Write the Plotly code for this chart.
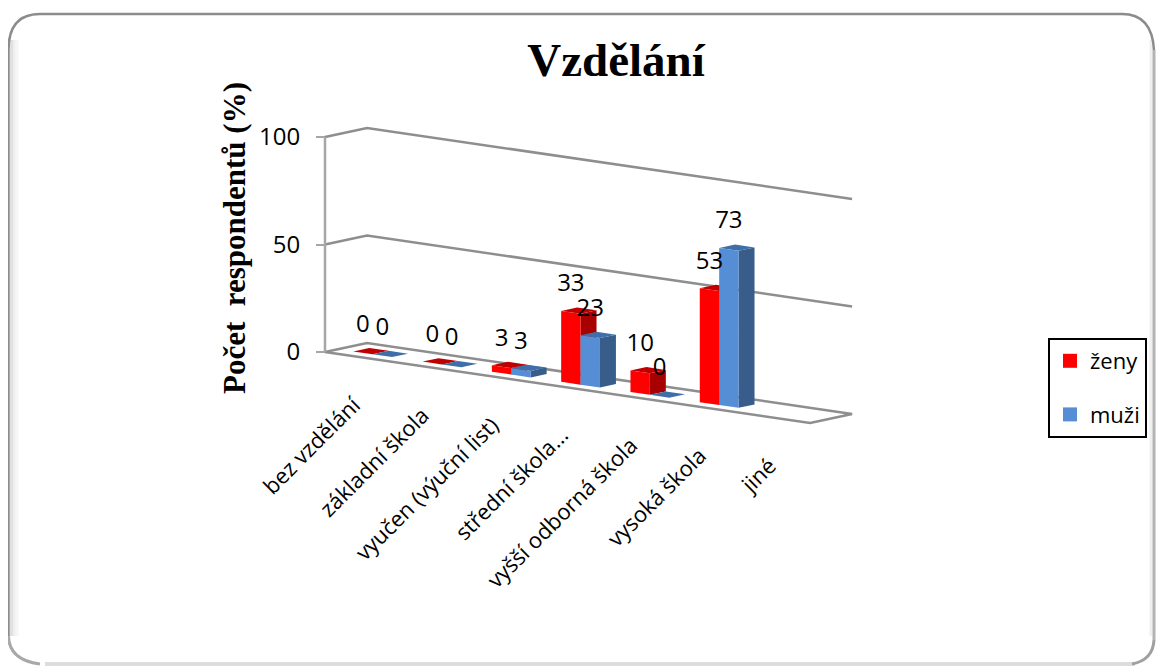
"""Vzdělání: Excel style pseudo-3D column chart drawn on sheared plotly axes."""

import plotly.graph_objects as go

PAGE_MARGIN = 8  # browser body margin in front of the figure
WIDTH = 1164 - PAGE_MARGIN
HEIGHT = 666 - PAGE_MARGIN

categories = ["bez vzdělání", "základní škola", "vyučen (výuční list)", "střední škola...",
              "vyšší odborná škola", "vysoká škola", "jiné"]
zeny = [0, 0, 3, 33, 10, 53, None]
muzi = [0, 0, 3, 23, 0, 73, None]
y_ticks = [0, 50, 100]

SANS = "Open Sans"
SERIF = "Liberation Serif"

# pixel geometry of the fake 3D box, in figure pixels
ORIGIN_X, ORIGIN_Y = 325 - PAGE_MARGIN, 352 - PAGE_MARGIN
PX_PER_CAT = 69.3
PX_PER_VAL = 2.15
DROP_PER_CAT = 10.14 / PX_PER_VAL  # floor falls to the right
DEPTH_X = 42 / PX_PER_CAT
DEPTH_Y = 9 / PX_PER_VAL
BAR_W = 0.28
D_FRONT, D_BACK = 0.31, 0.69
LABEL_LIFT = 27 / PX_PER_VAL


def px(x):
    return (x - PAGE_MARGIN) / WIDTH


def py(y):
    return 1 - (y - PAGE_MARGIN) / HEIGHT


def proj(u, d, v):
    """Category position, depth and value to sheared axis coordinates."""
    return u + d * DEPTH_X, v - u * DROP_PER_CAT + d * DEPTH_Y


def polys(corners):
    xs, ys = [], []
    for poly in corners:
        pts = [proj(*p) for p in poly]
        pts.append(pts[0])
        xs += [p[0] for p in pts] + [None]
        ys += [p[1] for p in pts] + [None]
    return xs, ys


def add_series(fig, values, offset, colors):
    front, side, top = [], [], []
    for i, v in enumerate(values):
        if v is None:
            continue
        u0 = i + 0.5 + offset
        u1 = u0 + BAR_W
        front.append([(u0, D_FRONT, 0), (u1, D_FRONT, 0), (u1, D_FRONT, v), (u0, D_FRONT, v)])
        side.append([(u1, D_FRONT, 0), (u1, D_BACK, 0), (u1, D_BACK, v), (u1, D_FRONT, v)])
        top.append([(u0, D_FRONT, v), (u1, D_FRONT, v), (u1, D_BACK, v), (u0, D_BACK, v)])
    for faces, color in zip((side, top, front), colors):
        xs, ys = polys(faces)
        fig.add_trace(go.Scatter(x=xs, y=ys, mode="lines", fill="toself", fillcolor=color,
                                 line=dict(width=0, color=color), showlegend=False, hoverinfo="skip"))


def labels_for(values, offset):
    xs, ys, text = [], [], []
    for i, v in enumerate(values):
        if v is None:
            continue
        x, y = proj(i + 0.5 + offset + BAR_W / 2, D_FRONT, v)
        xs.append(x)
        ys.append(y + LABEL_LIFT)
        text.append(str(v))
    return xs, ys, text


def edge(points, color, width):
    """Frame piece from page pixels: first point, then L or Q segments."""
    path = f"M {px(points[0][0])},{py(points[0][1])}"
    for seg in points[1:]:
        if len(seg) == 2:
            path += f" L {px(seg[0])},{py(seg[1])}"
        else:
            path += f" Q {px(seg[0])},{py(seg[1])} {px(seg[2])},{py(seg[3])}"
    return dict(type="path", path=path, xref="paper", yref="paper", layer="below",
                line=dict(color=color, width=width))


fig = go.Figure()

# floor and walls
GRID = "#8e8e8e"
floor = [(0, 0, 0), (0, 1, 0), (7, 1, 0), (7, 0, 0), (0, 0, 0)]
pts = [proj(*p) for p in floor]
fig.add_trace(go.Scatter(x=[p[0] for p in pts], y=[p[1] for p in pts], mode="lines",
                         line=dict(color=GRID, width=2.5), showlegend=False, hoverinfo="skip"))
for level in y_ticks[1:]:
    pts = [proj(0, 0, level), proj(0, 1, level), proj(7, 1, level)]
    fig.add_trace(go.Scatter(x=[p[0] for p in pts], y=[p[1] for p in pts], mode="lines",
                             line=dict(color=GRID, width=2.5), showlegend=False, hoverinfo="skip"))
fig.add_trace(go.Scatter(x=[0, 0], y=[y_ticks[0], y_ticks[-1]], mode="lines",
                         line=dict(color="#a6a6a6", width=2.5), showlegend=False, hoverinfo="skip"))

add_series(fig, zeny, -BAR_W, ("#a80000", "#c00000", "#ff0000"))
add_series(fig, muzi, 0, ("#385d8a", "#3f6fa8", "#558ed5"))

for values, offset in ((zeny, -BAR_W), (muzi, 0)):
    xs, ys, text = labels_for(values, offset)
    fig.add_trace(go.Scatter(x=xs, y=ys, mode="text", text=text, textposition="middle center",
                             textfont=dict(family=SANS, size=24, color="black"),
                             showlegend=False, hoverinfo="skip", cliponaxis=False))

# legend only traces
fig.add_trace(go.Scatter(x=[None], y=[None], mode="markers", name="ženy", legendgroup="a",
                         marker=dict(symbol="square", size=14, color="#ff0000")))
fig.add_trace(go.Scatter(x=[None], y=[None], mode="markers", name="muži", legendgroup="b",
                         marker=dict(symbol="square", size=14, color="#558ed5")))

annotations = []
for i, name in enumerate(categories):
    x, y = proj(i + 0.5, 0, 0)
    annotations.append(dict(x=x, y=y, xref="x", yref="y", text=name, showarrow=False, textangle=-45,
                            xanchor="right", yanchor="top", xshift=9, yshift=-30,
                            font=dict(family=SANS, size=22, color="black")))
annotations.append(dict(x=px(234), y=py(238), xref="paper", yref="paper", xanchor="center", yanchor="middle",
                        text="<b>Počet  respondentů (%)</b>", showarrow=False, textangle=-90,
                        font=dict(family=SERIF, size=31, color="black")))

# rounded frame with soft inner edge
shapes = []
for x, col in ((17, "#f6f6f6"), (14, "#eeeeee"), (11.5, "#e0e0e0")):
    shapes.append(edge([(x, 40), (x, 636)], col, 3))
shapes.append(edge([(1151, 40), (1151, 636)], "#efefef", 3))
shapes.append(edge([(1135, 664), (45, 664)], "#dcdcdc", 4))
shapes.append(edge([(1154, 50), (1154, 640)], "#b4b4b4", 3))
shapes.append(edge([(8.5, 640), (8.5, 50), (8.5, 14, 40, 14), (1122, 14), (1152, 14, 1154, 50)], "#8c8c8c", 2.5))
shapes.append(edge([(8.5, 636), (9, 660, 40, 664)], "#a8a8a8", 3))
shapes.append(edge([(1154, 640), (1153, 660, 1132, 664)], "#a0a0a0", 3))

fig.update_layout(
    width=WIDTH,
    height=HEIGHT,
    margin=dict(l=0, r=0, t=0, b=0),
    paper_bgcolor="white",
    plot_bgcolor="rgba(0,0,0,0)",
    title=dict(text="<b>Vzdělání</b>", x=px(616), xanchor="center", y=py(60), yanchor="middle",
               font=dict(family=SERIF, size=47, color="black")),
    xaxis=dict(range=[-ORIGIN_X / PX_PER_CAT, (WIDTH - ORIGIN_X) / PX_PER_CAT], visible=False, domain=[0, 1]),
    yaxis=dict(range=[(ORIGIN_Y - HEIGHT) / PX_PER_VAL, ORIGIN_Y / PX_PER_VAL],
               anchor="free", position=ORIGIN_X / WIDTH, tickmode="array", tickvals=y_ticks,
               ticks="outside", ticklen=9, tickwidth=2, tickcolor="#a6a6a6", ticklabelstandoff=11,
               showgrid=False, zeroline=False, showline=False,
               tickfont=dict(family=SANS, size=24, color="black")),
    legend=dict(x=px(1048), y=py(338), xanchor="left", yanchor="top",
                bgcolor="white", bordercolor="black", borderwidth=2, tracegroupgap=22,
                font=dict(family=SANS, size=22, color="black"), itemwidth=30),
    annotations=annotations,
    shapes=shapes,
    showlegend=True,
)

fig.write_html("out.html")
